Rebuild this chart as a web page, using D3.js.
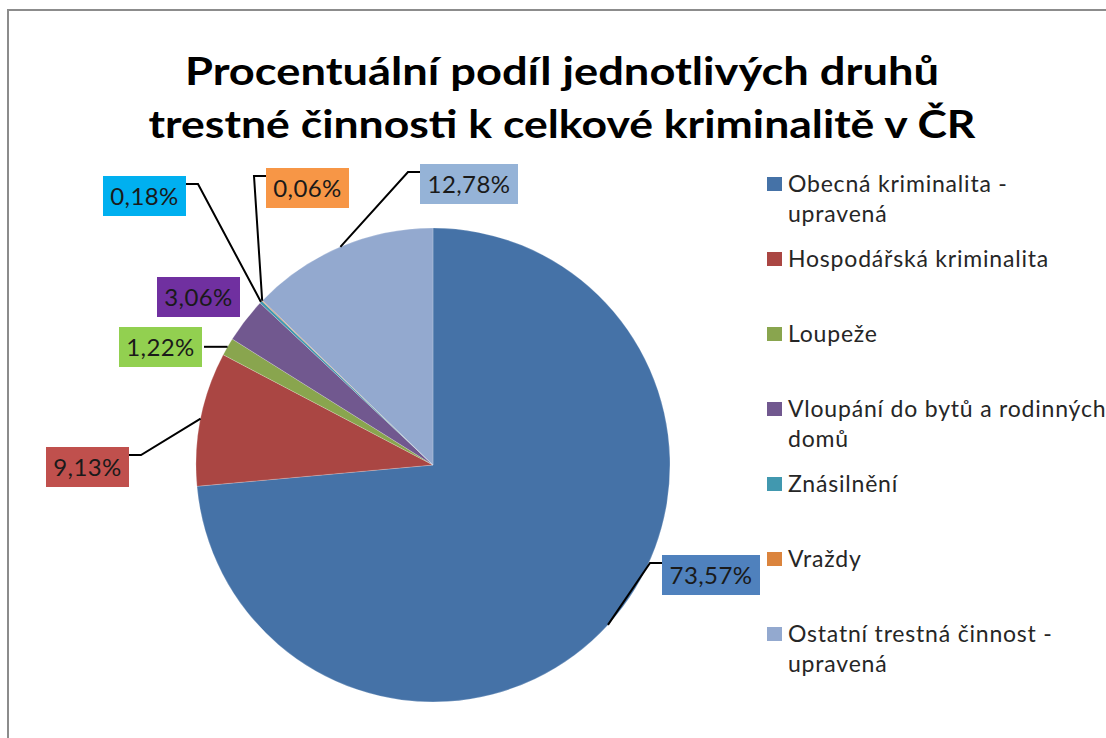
<!DOCTYPE html>
<html>
  <head>
    <meta charset="UTF-8" />
    <style>
      body {
        margin: 0;
        background: #fff;
        font-family: "Lato";
      }
    </style>
  </head>
  <body>
    <svg></svg>
    <script src="https://d3js.org/d3.v7.min.js"></script>
    <script>
      // Data
      const categories = [
        "Obecná kriminalita - upravená",
        "Hospodářská kriminalita",
        "Loupeže",
        "Vloupání do bytů a rodinných domů",
        "Znásilnění",
        "Vraždy",
        "Ostatní trestná činnost - upravená",
      ];
      const values = [73.57, 9.13, 1.22, 3.06, 0.18, 0.06, 12.78];
      // legend lines (wrapped like the original)
      const legendLines = [
        ["Obecná kriminalita -", "upravená"],
        ["Hospodářská kriminalita"],
        ["Loupeže"],
        ["Vloupání do bytů a rodinných", "domů"],
        ["Znásilnění"],
        ["Vraždy"],
        ["Ostatní trestná činnost -", "upravená"],
      ];
      const titleLines = [
        "Procentuální podíl jednotlivých druhů",
        "trestné činnosti k celkové kriminalitě v ČR",
      ];

      // Styles
      const sliceColors = ["#4572a7", "#aa4643", "#89a54e", "#71588f", "#4198af", "#db843d", "#93a9cf"];
      const labelColors = ["#4f81bd", "#c0504d", "#92d050", "#7030a0", "#00b0f0", "#f79646", "#95b3d7"];
      // top-left corner of each data label box
      const labelBoxes = [
        [662, 555],
        [46, 447],
        [119, 327],
        [157, 277],
        [103, 176],
        [266, 168],
        [420, 164],
      ];

      let width = 1106,
        height = 738;

      let svg = d3
        .select("svg")
        .attr("width", width)
        .attr("height", height);

      // chart border (only top and left edges are visible)
      svg
        .append("rect")
        .attr("x", 8)
        .attr("y", 10)
        .attr("width", 1200)
        .attr("height", 800)
        .attr("fill", "#fff")
        .attr("stroke", "#8c8c8c")
        .attr("stroke-width", 2);

      // Title
      let titleWidths = [754, 827];
      svg
        .append("g")
        .selectAll("text")
        .data(titleLines)
        .enter()
        .append("text")
        .attr("x", 562)
        .attr("y", (d, i) => 85 + i * 53)
        .attr("text-anchor", "middle")
        .attr("font-size", 39)
        .attr("font-weight", "bold")
        .attr("fill", "#000")
        .attr("textLength", (d, i) => titleWidths[i])
        .attr("lengthAdjust", "spacingAndGlyphs")
        .text((d) => d);

      // Pie
      let cx = 433,
        cy = 465,
        r = 237;

      let pie = d3.pie().sort(null).value((d) => d);
      let arcs = pie(values);
      let arc = d3.arc().innerRadius(0).outerRadius(r);

      let g = svg.append("g").attr("transform", "translate(" + cx + "," + cy + ")");
      g.selectAll("path")
        .data(arcs)
        .enter()
        .append("path")
        .attr("d", arc)
        .attr("fill", (d, i) => sliceColors[i])
        .attr("stroke", "#fff")
        .attr("stroke-opacity", 0.35)
        .attr("stroke-width", 0.6);

      // Data labels
      let fmt = (v) => v.toFixed(2).replace(".", ",") + "%";
      let labels = svg.append("g");

      arcs.forEach((a, i) => {
        let mid = (a.startAngle + a.endAngle) / 2;
        let ax = cx + r * Math.sin(mid),
          ay = cy - r * Math.cos(mid);

        let t = labels
          .append("text")
          .attr("font-size", 24)
          .attr("letter-spacing", 0.4)
          .attr("fill", "#1a1a1a")
          .attr("text-anchor", "middle")
          .text(fmt(values[i]));
        let tw = t.node().getComputedTextLength();
        let bw = Math.round(tw + 15),
          bh = 40;
        let bx = labelBoxes[i][0],
          by = labelBoxes[i][1];

        labels
          .insert("rect", "text")
          .attr("x", bx)
          .attr("y", by)
          .attr("width", bw)
          .attr("height", bh)
          .attr("fill", labelColors[i]);
        t.attr("x", bx + bw / 2).attr("y", by + 29);

        // leader line
        let left = bx + bw / 2 < ax;
        let sx = left ? bx + bw : bx;
        let dist = Math.hypot(ax - Math.max(bx, Math.min(ax, bx + bw)), ay - Math.max(by, Math.min(ay, by + bh)));
        if (dist < 15) return;
        let pts;
        if (ay > by && ay < by + bh) {
          pts = [[sx + (left ? 2 : -2), ay], [ax, ay]];
        } else {
          let sy = by + 8;
          let ex = left ? sx + 12 : sx - 12;
          pts = [[sx, sy], [ex, sy], [ax, ay]];
        }
        labels
          .append("path")
          .attr("d", d3.line()(pts))
          .attr("fill", "none")
          .attr("stroke", "#000")
          .attr("stroke-width", 2);
      });

      // Legend
      let legend = svg.append("g").attr("class", "legend");
      categories.forEach((c, i) => {
        let y0 = 192 + i * 75;
        legend
          .append("rect")
          .attr("x", 767)
          .attr("y", y0 - 15)
          .attr("width", 15)
          .attr("height", 14)
          .attr("fill", sliceColors[i]);
        legend
          .append("text")
          .attr("font-size", 23)
          .attr("letter-spacing", 0.8)
          .attr("fill", "#262626")
          .selectAll("tspan")
          .data(legendLines[i])
          .enter()
          .append("tspan")
          .attr("x", 788)
          .attr("y", (d, j) => y0 + j * 30)
          .text((d) => d);
      });
    </script>
  </body>
</html>
